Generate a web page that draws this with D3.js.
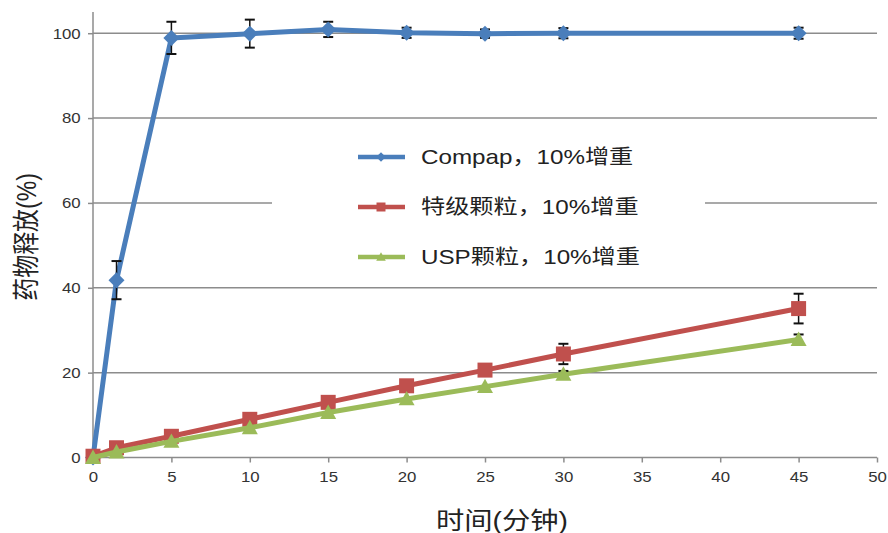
<!DOCTYPE html>
<html>
<head>
<meta charset="utf-8">
<script src="https://cdn.jsdelivr.net/npm/d3@7"></script>
<style>
  html, body { margin: 0; padding: 0; background: #fff; }
  svg { display: block; }
  text { font-family: "Liberation Sans", Arial, "Noto Sans CJK SC", sans-serif; }
</style>
</head>
<body>
<svg id="chart" width="888" height="533"></svg>
<script>
// Sampling times (minutes)
const times = [0, 1.5, 5, 10, 15, 20, 25, 30, 45];

// Cumulative drug release (%) per formulation
const compapValues = [0, 41.8, 98.9, 99.9, 100.9, 100.1, 99.9, 100.0, 100.0];
const compapErrors = [0, 4.5, 3.8, 3.3, 1.8, 1.2, 1.0, 1.2, 1.3];

const specialValues = [0.3, 2.3, 5.0, 9.0, 13.0, 16.9, 20.6, 24.4, 35.1];
const specialErrors = [0, 0, 0, 0, 0, 0.8, 0.8, 2.4, 3.5];

const uspValues = [0, 1.3, 3.8, 7.0, 10.6, 13.8, 16.7, 19.6, 27.8];
const uspErrors = [0, 0, 0, 0, 0, 0, 0, 0.8, 1.2];

const seriesNames = ["Compap，10%增重", "特级颗粒，10%增重", "USP颗粒，10%增重"];
const seriesColors = ["#4a7ebb", "#c0504d", "#9bbb59"];

const xTicks = [0, 5, 10, 15, 20, 25, 30, 35, 40, 45, 50];
const yTicks = [0, 20, 40, 60, 80, 100];

const xTitle = "时间(分钟)";
const yTitle = "药物释放(%)";

const svg = d3.select("#chart");

const x = d3.scaleLinear().domain([0, 50]).range([93, 877]);
const y = d3.scaleLinear().domain([0, 105]).range([457.5, 12]);

// Text in this figure is set slightly wide
const WIDE = 1.18;

// Marker shapes, r = half width
const diamond = r => `M0,${-r}L${r},0L0,${r}L${-r},0Z`;
const square = r => `M${-r},${-r}H${r}V${r}H${-r}Z`;
const triangle = r => `M0,${-r}L${r},${r * 0.8}H${-r}Z`;

// Horizontal gridlines
svg.append("g")
  .selectAll("line")
  .data(yTicks.filter(d => d > 0))
  .join("line")
  .attr("x1", x(0)).attr("x2", x(50))
  .attr("y1", d => y(d)).attr("y2", d => y(d))
  .attr("stroke", "#8c8c8c").attr("stroke-width", 1.5);

// Y axis
const yAxis = svg.append("g")
  .attr("transform", `translate(${x(0)},0)`)
  .call(d3.axisLeft(y).tickValues(yTicks).tickSize(5).tickPadding(6));
yAxis.select(".domain").attr("stroke", "#8c8c8c").attr("stroke-width", 1.5)
  .attr("d", `M0,${y(105)}V${y(0)}`);
yAxis.selectAll(".tick line").attr("stroke", "#8c8c8c").attr("stroke-width", 1.5);
yAxis.selectAll(".tick text").attr("font-size", 15).attr("fill", "#333")
  .attr("transform", "scale(1.12,1)");

// X axis
const xAxis = svg.append("g")
  .attr("transform", `translate(0,${y(0)})`)
  .call(d3.axisBottom(x).tickValues(xTicks).tickSize(5).tickPadding(9));
xAxis.select(".domain").attr("stroke", "#8c8c8c").attr("stroke-width", 1.5)
  .attr("d", `M${x(0)},0H${x(50)}`);
xAxis.selectAll(".tick line").attr("stroke", "#8c8c8c").attr("stroke-width", 1.5);
xAxis.selectAll(".tick text").attr("font-size", 15).attr("fill", "#333")
  .attr("transform", "scale(1.12,1)");

// Axis titles
svg.append("text")
  .attr("transform", `translate(502,529) scale(${WIDE},1)`)
  .attr("text-anchor", "middle")
  .attr("font-size", 24).attr("fill", "#222")
  .text(xTitle);

svg.append("text")
  .attr("transform", `translate(36,237) rotate(-90) scale(1,${WIDE})`)
  .attr("text-anchor", "middle")
  .attr("font-size", 23).attr("fill", "#222")
  .text(yTitle);

// Legend backdrop (covers the gridline behind it)
svg.append("rect")
  .attr("x", 272).attr("y", 128).attr("width", 433).attr("height", 150)
  .attr("fill", "#fff");

const series = [
  { values: compapValues, errors: compapErrors, shape: diamond, r: 8 },
  { values: specialValues, errors: specialErrors, shape: square, r: 7.5 },
  { values: uspValues, errors: uspErrors, shape: triangle, r: 8 }
];

const line = d3.line().x(d => x(d.t)).y(d => y(d.v));

// Draw series: lines, error bars, markers (later series on top)
series.forEach((s, i) => {
  const pts = times.map((t, k) => ({ t, v: s.values[k], e: s.errors[k] }));
  const g = svg.append("g");
  g.append("path")
    .datum(pts)
    .attr("d", line)
    .attr("fill", "none")
    .attr("stroke", seriesColors[i])
    .attr("stroke-width", 5)
    .attr("stroke-linejoin", "round");

  const eb = g.selectAll("g.err").data(pts.filter(d => d.e > 0)).join("g").attr("class", "err");
  eb.append("line")
    .attr("x1", d => x(d.t)).attr("x2", d => x(d.t))
    .attr("y1", d => y(d.v + d.e)).attr("y2", d => y(d.v - d.e))
    .attr("stroke", "#111").attr("stroke-width", 1.5);
  eb.append("line")
    .attr("x1", d => x(d.t) - 5).attr("x2", d => x(d.t) + 5)
    .attr("y1", d => y(d.v + d.e)).attr("y2", d => y(d.v + d.e))
    .attr("stroke", "#111").attr("stroke-width", 2);
  eb.append("line")
    .attr("x1", d => x(d.t) - 5).attr("x2", d => x(d.t) + 5)
    .attr("y1", d => y(d.v - d.e)).attr("y2", d => y(d.v - d.e))
    .attr("stroke", "#111").attr("stroke-width", 2);

  g.selectAll("path.mk").data(pts).join("path").attr("class", "mk")
    .attr("transform", d => `translate(${x(d.t)},${y(d.v)})`)
    .attr("d", s.shape(s.r))
    .attr("fill", seriesColors[i]);
});

// Legend
const legendRows = [157, 207, 257];
series.forEach((s, i) => {
  const ly = legendRows[i];
  svg.append("line")
    .attr("x1", 358).attr("x2", 405).attr("y1", ly).attr("y2", ly)
    .attr("stroke", seriesColors[i]).attr("stroke-width", 4.5);
  svg.append("path")
    .attr("transform", `translate(381,${ly})`)
    .attr("d", s.shape(s.r * 0.6))
    .attr("fill", seriesColors[i]);
  svg.append("text")
    .attr("transform", `translate(421,${ly + 7}) scale(${WIDE},1)`)
    .attr("font-size", 20.5).attr("fill", "#222")
    .text(seriesNames[i]);
});
</script>
</body>
</html>
